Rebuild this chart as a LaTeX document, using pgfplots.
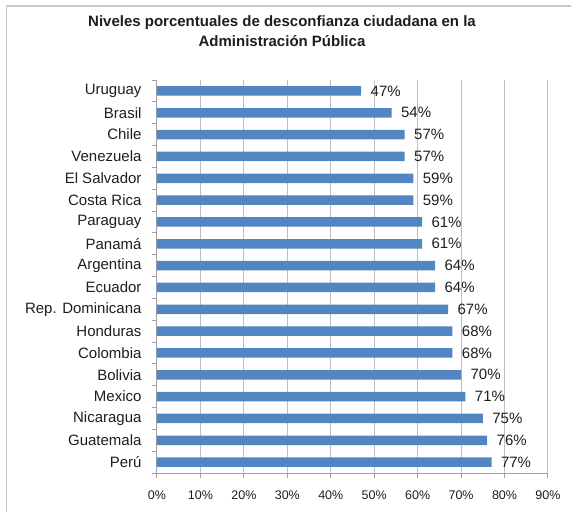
\documentclass[border=0pt]{standalone}
\usepackage{pgfplots}
\pgfplotsset{compat=1.18}
\usepackage{fontspec}
\setmainfont{Liberation Sans}
\definecolor{barblue}{RGB}{82,134,194}
\definecolor{gridgray}{RGB}{190,190,190}
\definecolor{axisgray}{RGB}{160,160,160}
\definecolor{framegray}{RGB}{200,200,200}
\definecolor{txt}{RGB}{30,30,30}
\begin{document}
\begin{tikzpicture}
\useasboundingbox (0pt,0pt) rectangle (571pt,-512pt);
\draw[color=framegray, line width=1.2pt] (571pt,-6pt) -- (6.5pt,-6pt) -- (6.5pt,-512pt);
\node[align=center, text=txt, font=\fontsize{15}{19.5}\selectfont\bfseries] at (282pt,-31pt)
  {Niveles porcentuales de desconfianza ciudadana en la\\Administración Pública};
\begin{axis}[
  at={(157pt,-473pt)}, anchor=south west,
  scale only axis, width=391pt, height=393pt,
  xbar, bar width=9.5pt,
  xmin=0, xmax=90,
  ymin=-0.5, ymax=17.5, y dir=reverse,
  axis lines*=left,
  axis line style={axisgray, line width=1pt},
  xtick={0,10,...,90},
  xticklabel={\pgfmathprintnumber{\tick}\%},
  xticklabel style={font=\fontsize{12.5}{14}\selectfont, text=txt, yshift=-9pt},
  /pgf/number format/assume math mode=true,
  xmajorgrids, grid style={gridgray, line width=1pt},
  ytick={0,...,17},
  yticklabels={Uruguay,Brasil,Chile,Venezuela,El Salvador,Costa Rica,Paraguay,Panamá,Argentina,Ecuador,Rep. Dominicana,Honduras,Colombia,Bolivia,Mexico,Nicaragua,Guatemala,Perú},
  yticklabel style={font=\fontsize{15}{18}\selectfont, text=txt, xshift=-7pt},
  minor ytick={-0.5,0.5,...,17.5},
  tick align=outside,
  major tick length=5pt,
  y tick style={draw=none},
  minor y tick style={draw=axisgray, line width=1pt},
  minor tick length=5pt,
  x tick style={draw=axisgray, line width=1pt},
  nodes near coords={\pgfmathprintnumber{\pgfplotspointmeta}\%},
  nodes near coords style={font=\fontsize{15}{18}\selectfont, text=txt, anchor=west, xshift=6pt},
  point meta=x,
]
\addplot[fill=barblue, draw=none] coordinates {
(47,0) (54,1) (57,2) (57,3) (59,4) (59,5) (61,6) (61,7) (64,8) (64,9)
(67,10) (68,11) (68,12) (70,13) (71,14) (75,15) (76,16) (77,17)};
\end{axis}
\end{tikzpicture}
\end{document}
